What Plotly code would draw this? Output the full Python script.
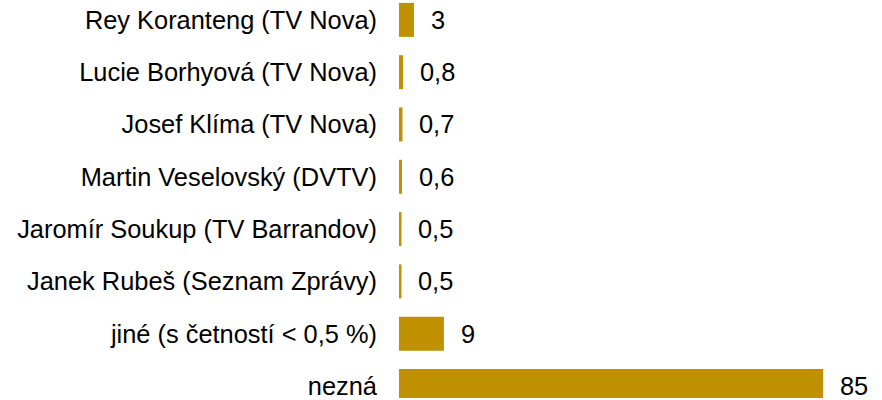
import plotly.graph_objects as go

categories = [
    "Rey Koranteng (TV Nova)",
    "Lucie Borhyová (TV Nova)",
    "Josef Klíma (TV Nova)",
    "Martin Veselovský (DVTV)",
    "Jaromír Soukup (TV Barrandov)",
    "Janek Rubeš (Seznam Zprávy)",
    "jiné (s četností < 0,5 %)",
    "nezná",
]
values = [3, 0.8, 0.7, 0.6, 0.5, 0.5, 9, 85]
value_labels = ["3", "0,8", "0,7", "0,6", "0,5", "0,5", "9", "85"]

BAR_COLOR = "#BF9000"
FONT = "Liberation Sans, Arial, sans-serif"
FONT_SIZE = 25.4

fig = go.Figure()

fig.add_trace(
    go.Bar(
        x=values,
        y=categories,
        orientation="h",
        marker=dict(color=BAR_COLOR, line=dict(width=0)),
        hoverinfo="x+y",
    )
)

# value labels to the right of each bar
for cat, val, lab in zip(categories, values, value_labels):
    fig.add_annotation(
        x=val,
        y=cat,
        text=lab,
        showarrow=False,
        xanchor="left",
        xshift=15,
        font=dict(family=FONT, size=FONT_SIZE, color="#000000"),
    )

fig.update_layout(
    width=882,
    height=400,
    margin=dict(l=399, r=0, t=0, b=0),
    paper_bgcolor="white",
    plot_bgcolor="white",
    bargap=0.35,
    showlegend=False,
    font=dict(family=FONT, size=FONT_SIZE, color="#000000"),
)

fig.update_xaxes(
    range=[0, 96.8],
    showgrid=False,
    zeroline=False,
    showticklabels=False,
    showline=False,
)

fig.update_yaxes(
    categoryorder="array",
    categoryarray=categories,
    range=[7.23, -0.38],
    showgrid=False,
    zeroline=False,
    showline=False,
    ticks="",
    ticklabelstandoff=21,
    tickfont=dict(family=FONT, size=FONT_SIZE, color="#000000"),
)

# drop the default body margin so the chart sits at the page corner
fig.write_html(
    "out.html",
    config={"displayModeBar": False},
    post_script="document.body.style.margin='0';document.body.style.overflow='hidden';",
)
